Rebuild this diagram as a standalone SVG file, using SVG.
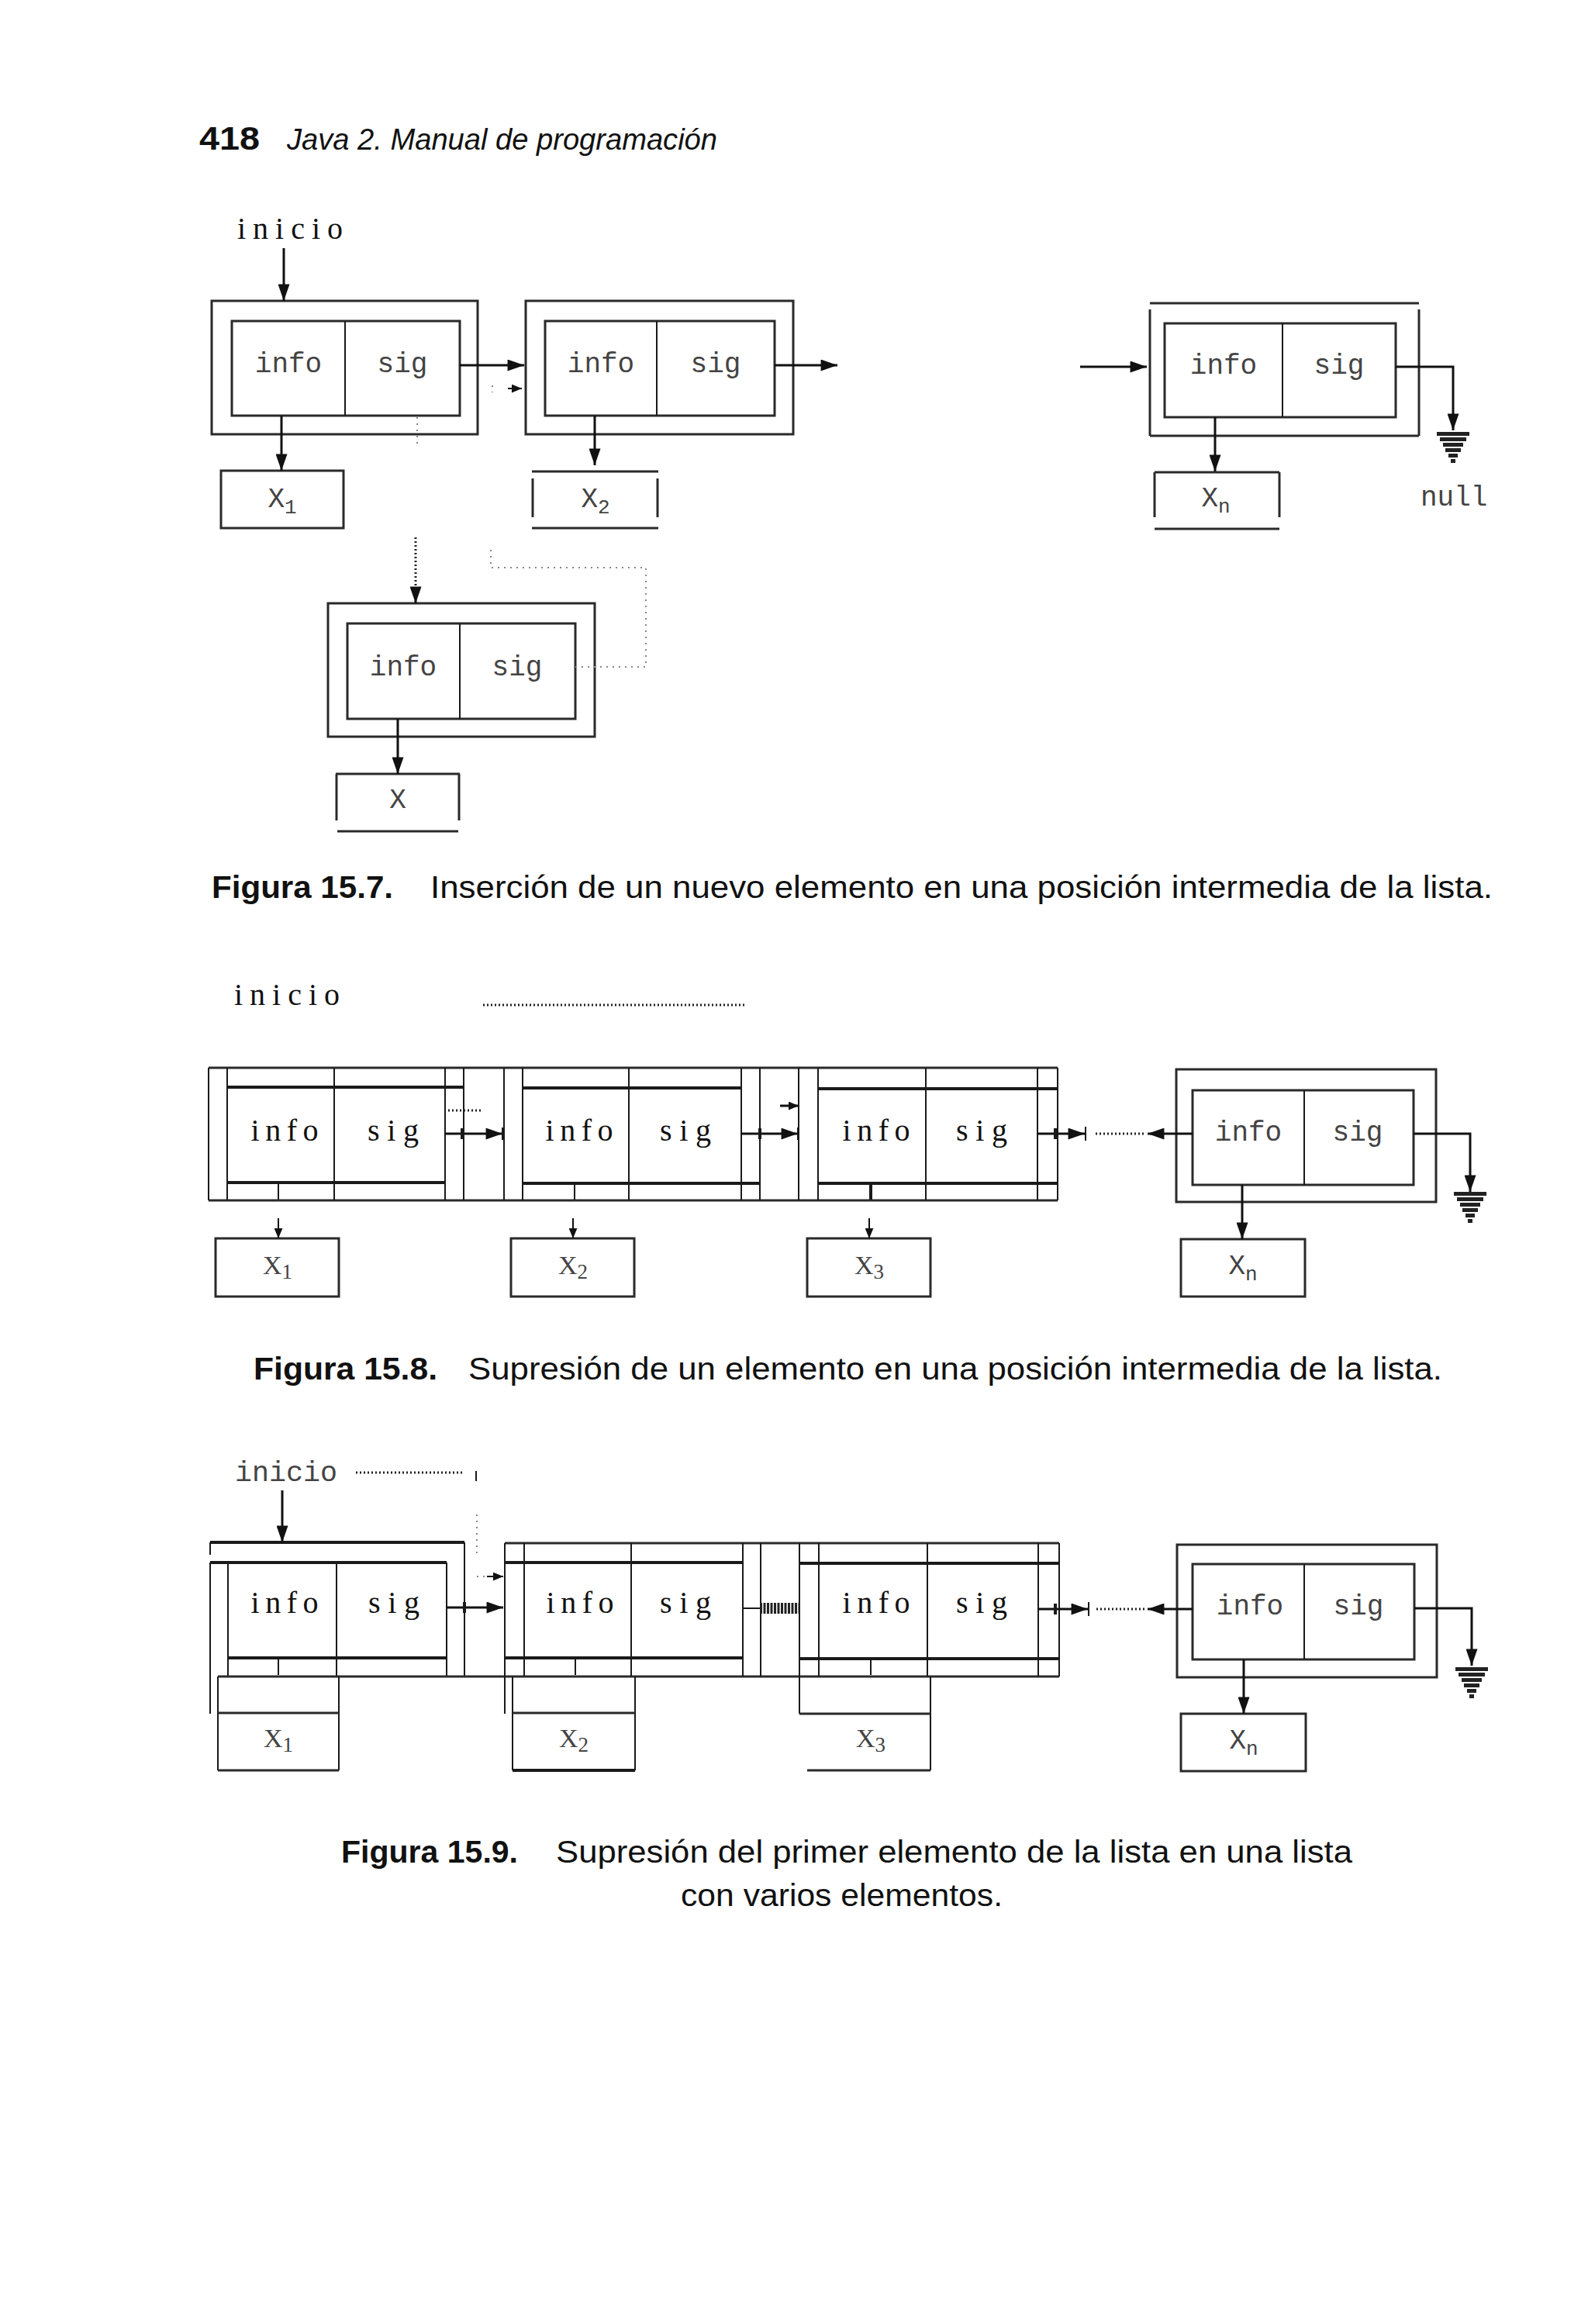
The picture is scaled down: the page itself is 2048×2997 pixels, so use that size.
<svg xmlns="http://www.w3.org/2000/svg" width="2048" height="2997" viewBox="0 0 2048 2997">
<defs>
<style>
.bx{fill:none;stroke:#2a2a2a;stroke-width:3}
.ln{stroke:#1a1a1a;stroke-width:2;fill:none}
.th{stroke:#1a1a1a;stroke-width:4;fill:none}
.ar{stroke:#111;stroke-width:3;fill:none;marker-end:url(#ah)}
.ars{stroke:#111;stroke-width:2;fill:none;marker-end:url(#ahs)}
.dot{stroke:#222;stroke-width:3;fill:none;stroke-dasharray:2 3}
.fdot{stroke:#888;stroke-width:2;fill:none;stroke-dasharray:2 6}
.mono{font-family:"Liberation Mono","DejaVu Sans Mono",monospace;font-size:36px;fill:#444}
.ser{font-family:"Liberation Serif","DejaVu Serif",serif;font-size:40px;fill:#111}
.xs{font-family:"Liberation Serif","DejaVu Serif",serif;font-size:34px;fill:#444}
.cap{font-family:"Liberation Sans",Arial,sans-serif;font-size:40px;fill:#111}
.capb{font-family:"Liberation Sans",Arial,sans-serif;font-size:40px;font-weight:bold;fill:#111}
</style>
<marker id="ah" viewBox="0 0 20 14" refX="20" refY="7" markerWidth="22" markerHeight="15" markerUnits="userSpaceOnUse" orient="auto"><path d="M0,0 L20,7 L0,14 z" fill="#111"/></marker>
<marker id="ahs" viewBox="0 0 12 10" refX="12" refY="5" markerWidth="13" markerHeight="11" markerUnits="userSpaceOnUse" orient="auto"><path d="M0,0 L12,5 L0,10 z" fill="#111"/></marker>
<g id="gnd" fill="#222">
<rect x="-21" y="0" width="42" height="5"/>
<rect x="-17" y="7" width="34" height="5"/>
<rect x="-13" y="14" width="26" height="5"/>
<rect x="-10" y="21" width="20" height="5"/>
<rect x="-6" y="28" width="12" height="5"/>
<rect x="-3" y="35" width="6" height="5"/>
</g>
</defs>
<rect width="2048" height="2997" fill="#fff"/>

<g id="header">
<text x="257" y="193" font-family="Liberation Sans, Arial, sans-serif" font-size="42" font-weight="bold" fill="#111" textLength="78" lengthAdjust="spacingAndGlyphs">418</text>
<text x="370" y="193" font-family="Liberation Sans, Arial, sans-serif" font-size="38" font-style="italic" fill="#111" textLength="555" lengthAdjust="spacingAndGlyphs">Java 2. Manual de programación</text>
</g>

<!-- ================= Figura 15.7 ================= -->
<g id="f157-inicio"><text class="ser" x="306" y="308" font-size="37" textLength="136" lengthAdjust="spacing">inicio</text></g>

<g id="f157-node1">
<rect class="bx" x="273" y="388" width="343" height="172"/>
<rect class="bx" x="299" y="414" width="294" height="122"/>
<line class="ln" x1="445" y1="414" x2="445" y2="536"/>
<text class="mono" x="372" y="480" text-anchor="middle">info</text>
<text class="mono" x="519" y="480" text-anchor="middle">sig</text>
</g>
<g id="f157-x1">
<rect class="bx" x="285" y="607" width="158" height="74"/>
<text class="mono" x="364" y="654" text-anchor="middle" font-size="32">X<tspan font-size="26" dy="8">1</tspan></text>
</g>

<g id="f157-node2">
<rect class="bx" x="678" y="388" width="345" height="172"/>
<rect class="bx" x="703" y="414" width="296" height="122"/>
<line class="ln" x1="847" y1="414" x2="847" y2="536"/>
<text class="mono" x="775" y="480" text-anchor="middle">info</text>
<text class="mono" x="923" y="480" text-anchor="middle">sig</text>
</g>
<g id="f157-x2">
<line class="bx" x1="686" y1="608" x2="849" y2="608"/>
<line class="bx" x1="686" y1="681" x2="849" y2="681"/>
<line class="bx" x1="687" y1="617" x2="687" y2="667"/>
<line class="bx" x1="848" y1="617" x2="848" y2="667"/>
<text class="mono" x="768" y="654" text-anchor="middle" font-size="32">X<tspan font-size="26" dy="8">2</tspan></text>
</g>

<g id="f157-noden">
<line class="bx" x1="1483" y1="391" x2="1830" y2="391"/>
<line class="bx" x1="1483" y1="399" x2="1483" y2="562"/>
<line class="bx" x1="1830" y1="399" x2="1830" y2="562"/>
<line class="bx" x1="1483" y1="562" x2="1830" y2="562"/>
<rect class="bx" x="1502" y="417" width="298" height="121"/>
<line class="ln" x1="1654" y1="417" x2="1654" y2="538"/>
<text class="mono" x="1578" y="482" text-anchor="middle">info</text>
<text class="mono" x="1727" y="482" text-anchor="middle">sig</text>
</g>
<g id="f157-xn">
<line class="bx" x1="1489" y1="609" x2="1650" y2="609"/>
<line class="bx" x1="1489" y1="609" x2="1489" y2="667"/>
<line class="bx" x1="1650" y1="609" x2="1650" y2="667"/>
<line class="bx" x1="1489" y1="682" x2="1650" y2="682"/>
<text class="mono" x="1568" y="653" text-anchor="middle" font-size="32">X<tspan font-size="26" dy="8">n</tspan></text>
</g>
<g id="f157-null">
<use href="#gnd" x="1874" y="557"/>
<text class="mono" x="1832" y="652">null</text>
</g>

<g id="f157-newnode">
<rect class="bx" x="423" y="778" width="344" height="172"/>
<rect class="bx" x="448" y="804" width="294" height="123"/>
<line class="ln" x1="593" y1="804" x2="593" y2="927"/>
<text class="mono" x="520" y="871" text-anchor="middle">info</text>
<text class="mono" x="667" y="871" text-anchor="middle">sig</text>
</g>
<g id="f157-x">
<line class="bx" x1="433" y1="998" x2="593" y2="998"/>
<line class="bx" x1="434" y1="998" x2="434" y2="1058"/>
<line class="bx" x1="592" y1="998" x2="592" y2="1058"/>
<line class="bx" x1="435" y1="1072" x2="591" y2="1072"/>
<text class="mono" x="513" y="1042" text-anchor="middle" font-size="32">X</text>
</g>

<g id="f157-connectors">
<line class="ar" x1="366" y1="320" x2="366" y2="388"/>
<line class="ar" x1="593" y1="471" x2="676" y2="471"/>
<line class="ar" x1="999" y1="471" x2="1080" y2="471"/>
<line class="ar" x1="1393" y1="473" x2="1479" y2="473"/>
<path class="ar" d="M1800,473 H1874 V555"/>
<line class="ar" x1="363" y1="536" x2="363" y2="607"/>
<line class="ar" x1="767" y1="536" x2="767" y2="600"/>
<line class="ar" x1="1567" y1="538" x2="1567" y2="608"/>
<line class="ar" x1="513" y1="927" x2="513" y2="998"/>
<line class="fdot" x1="538" y1="538" x2="538" y2="574"/>
<line class="dot" x1="536" y1="693" x2="536" y2="760" stroke="#555"/>
<line class="ar" x1="536" y1="758" x2="536" y2="778"/>
<path class="fdot" d="M742,860 H833 V732 H633 V708"/>
<line class="fdot" x1="635" y1="497" x2="635" y2="506"/>
<line x1="655" y1="501" x2="673" y2="501" stroke="#111" stroke-width="2" marker-end="url(#ahs)"/>
</g>

<g id="f157-caption">
<text class="capb" x="273" y="1158" textLength="234" lengthAdjust="spacingAndGlyphs">Figura 15.7.</text>
<text class="cap" x="555" y="1158" textLength="1370" lengthAdjust="spacingAndGlyphs">Inserción de un nuevo elemento en una posición intermedia de la lista.</text>
</g>

<!-- ================= Figura 15.8 ================= -->
<g id="f158-inicio">
<text class="ser" x="302" y="1296" font-size="37" textLength="136" lengthAdjust="spacing">inicio</text>
<line class="dot" x1="623" y1="1296" x2="960" y2="1296" stroke-dasharray="2 2"/>
</g>

<g id="f158-frame">
<line class="bx" x1="269" y1="1377" x2="1364" y2="1377"/>
<line class="bx" x1="269" y1="1548" x2="1364" y2="1548"/>
<line class="ln" x1="269" y1="1377" x2="269" y2="1548"/>
<line class="ln" x1="598" y1="1377" x2="598" y2="1548"/>
<line class="ln" x1="650" y1="1377" x2="650" y2="1548"/>
<line class="ln" x1="980" y1="1377" x2="980" y2="1548"/>
<line class="ln" x1="1030" y1="1377" x2="1030" y2="1548"/>
<line class="ln" x1="1338" y1="1377" x2="1338" y2="1548"/>
<line class="ln" x1="1364" y1="1377" x2="1364" y2="1548"/>
</g>
<g id="f158-node1">
<line class="ln" x1="293" y1="1377" x2="293" y2="1548"/>
<line class="ln" x1="431" y1="1377" x2="431" y2="1548"/>
<line class="ln" x1="574" y1="1377" x2="574" y2="1548"/>
<line class="th" x1="293" y1="1402" x2="598" y2="1402"/>
<line class="th" x1="293" y1="1525" x2="574" y2="1525"/>
<line class="ln" x1="359" y1="1526" x2="359" y2="1547"/>
<text class="ser" x="367" y="1471" text-anchor="middle" textLength="87" lengthAdjust="spacing">info</text>
<text class="ser" x="507" y="1471" text-anchor="middle" textLength="66" lengthAdjust="spacing">sig</text>
</g>
<g id="f158-node2">
<line class="ln" x1="674" y1="1377" x2="674" y2="1548"/>
<line class="ln" x1="811" y1="1377" x2="811" y2="1548"/>
<line class="ln" x1="956" y1="1377" x2="956" y2="1548"/>
<line class="th" x1="674" y1="1403" x2="956" y2="1403"/>
<line class="th" x1="674" y1="1526" x2="980" y2="1526"/>
<line class="ln" x1="741" y1="1526" x2="741" y2="1547"/>
<text class="ser" x="747" y="1471" text-anchor="middle" textLength="87" lengthAdjust="spacing">info</text>
<text class="ser" x="884" y="1471" text-anchor="middle" textLength="66" lengthAdjust="spacing">sig</text>
</g>
<g id="f158-node3">
<line class="ln" x1="1055" y1="1377" x2="1055" y2="1548"/>
<line class="ln" x1="1194" y1="1377" x2="1194" y2="1548"/>
<line class="th" x1="1055" y1="1404" x2="1364" y2="1404"/>
<line class="th" x1="1055" y1="1526" x2="1364" y2="1526"/>
<line class="th" x1="1123" y1="1526" x2="1123" y2="1547" stroke-width="3"/>
<text class="ser" x="1130" y="1471" text-anchor="middle" textLength="87" lengthAdjust="spacing">info</text>
<text class="ser" x="1266" y="1471" text-anchor="middle" textLength="66" lengthAdjust="spacing">sig</text>
</g>
<g id="f158-x1">
<rect class="bx" x="278" y="1597" width="159" height="75"/>
<text class="xs" x="358" y="1643" text-anchor="middle">X<tspan font-size="27" dy="6">1</tspan></text>
</g>
<g id="f158-x2">
<rect class="bx" x="659" y="1597" width="159" height="75"/>
<text class="xs" x="739" y="1643" text-anchor="middle">X<tspan font-size="27" dy="6">2</tspan></text>
</g>
<g id="f158-x3">
<rect class="bx" x="1041" y="1597" width="159" height="75"/>
<text class="xs" x="1121" y="1643" text-anchor="middle">X<tspan font-size="27" dy="6">3</tspan></text>
</g>
<g id="f158-noden">
<rect class="bx" x="1517" y="1379" width="335" height="171"/>
<rect class="bx" x="1538" y="1406" width="285" height="122"/>
<line class="ln" x1="1682" y1="1406" x2="1682" y2="1528"/>
<text class="mono" x="1610" y="1471" text-anchor="middle">info</text>
<text class="mono" x="1751" y="1471" text-anchor="middle">sig</text>
</g>
<g id="f158-xn">
<rect class="bx" x="1523" y="1598" width="160" height="74"/>
<text class="mono" x="1603" y="1643" text-anchor="middle" font-size="32">X<tspan font-size="26" dy="8">n</tspan></text>
</g>
<g id="f158-null"><use href="#gnd" x="1896" y="1537"/></g>

<g id="f158-connectors">
<line class="ar" x1="574" y1="1462" x2="648" y2="1462"/>
<line class="th" x1="596" y1="1455" x2="596" y2="1469"/>
<line class="ln" x1="648" y1="1454" x2="648" y2="1470"/>
<line class="dot" x1="578" y1="1432" x2="622" y2="1432" stroke-dasharray="3 4"/>
<line class="ar" x1="956" y1="1462" x2="1029" y2="1462"/>
<line class="th" x1="980" y1="1455" x2="980" y2="1469"/>
<line class="ln" x1="1029" y1="1454" x2="1029" y2="1470"/>
<line x1="1006" y1="1426" x2="1030" y2="1426" stroke="#111" stroke-width="3" marker-end="url(#ahs)"/>
<line class="ar" x1="1338" y1="1462" x2="1399" y2="1462"/>
<line class="th" x1="1361" y1="1455" x2="1361" y2="1469"/>
<line class="ln" x1="1400" y1="1453" x2="1400" y2="1471"/>
<line class="dot" x1="1413" y1="1462" x2="1478" y2="1462"/>
<line class="ar" x1="1538" y1="1462" x2="1480" y2="1462"/>
<path class="ar" d="M1823,1462 H1896 V1537"/>
<line class="ar" x1="1602" y1="1528" x2="1602" y2="1598"/>
<line class="ars" x1="359" y1="1571" x2="359" y2="1597"/>
<line class="ars" x1="739" y1="1571" x2="739" y2="1597"/>
<line class="ars" x1="1121" y1="1571" x2="1121" y2="1597"/>
</g>

<g id="f158-caption">
<text class="capb" x="327" y="1779" textLength="237" lengthAdjust="spacingAndGlyphs">Figura 15.8.</text>
<text class="cap" x="604" y="1779" textLength="1256" lengthAdjust="spacingAndGlyphs">Supresión de un elemento en una posición intermedia de la lista.</text>
</g>

<!-- ================= Figura 15.9 ================= -->
<g id="f159-inicio">
<text class="mono" x="303" y="1910" fill="#555" textLength="132" lengthAdjust="spacingAndGlyphs">inicio</text>
<line class="dot" x1="459" y1="1899" x2="596" y2="1899" stroke-dasharray="2 2" stroke-width="3"/>
<line class="ln" x1="614" y1="1897" x2="614" y2="1910"/>
</g>

<g id="f159-node1">
<line class="th" x1="271" y1="1989" x2="599" y2="1989"/>
<line class="ln" x1="271" y1="1989" x2="271" y2="2005"/>
<line class="ln" x1="271" y1="2015" x2="271" y2="2210"/>
<line class="ln" x1="599" y1="1989" x2="599" y2="2162"/>
<line class="th" x1="271" y1="2015" x2="576" y2="2015"/>
<line class="th" x1="294" y1="2138" x2="576" y2="2138"/>
<line class="ln" x1="294" y1="2015" x2="294" y2="2162"/>
<line class="ln" x1="434" y1="2015" x2="434" y2="2162"/>
<line class="ln" x1="576" y1="2015" x2="576" y2="2162"/>
<line class="ln" x1="359" y1="2140" x2="359" y2="2160"/>
<text class="ser" x="367" y="2080" text-anchor="middle" textLength="87" lengthAdjust="spacing">info</text>
<text class="ser" x="508" y="2080" text-anchor="middle" textLength="66" lengthAdjust="spacing">sig</text>
</g>
<g id="f159-frame">
<line class="bx" x1="281" y1="2162" x2="1366" y2="2162"/>
<line class="bx" x1="651" y1="1990" x2="1366" y2="1990"/>
<line class="ln" x1="981" y1="1990" x2="981" y2="2162"/>
<line class="ln" x1="1339" y1="1990" x2="1339" y2="2162"/>
<line class="ln" x1="1366" y1="1990" x2="1366" y2="2162"/>
</g>
<g id="f159-node2">
<line class="ln" x1="651" y1="1990" x2="651" y2="2210"/>
<line class="ln" x1="676" y1="1990" x2="676" y2="2162"/>
<line class="ln" x1="814" y1="1990" x2="814" y2="2162"/>
<line class="ln" x1="958" y1="1990" x2="958" y2="2162"/>
<line class="th" x1="651" y1="2015" x2="958" y2="2015"/>
<line class="th" x1="651" y1="2138" x2="958" y2="2138"/>
<line class="ln" x1="742" y1="2140" x2="742" y2="2160"/>
<text class="ser" x="748" y="2080" text-anchor="middle" textLength="87" lengthAdjust="spacing">info</text>
<text class="ser" x="884" y="2080" text-anchor="middle" textLength="66" lengthAdjust="spacing">sig</text>
</g>
<g id="f159-node3">
<line class="ln" x1="1031" y1="1990" x2="1031" y2="2210"/>
<line class="ln" x1="1056" y1="1990" x2="1056" y2="2162"/>
<line class="ln" x1="1196" y1="1990" x2="1196" y2="2162"/>
<line class="th" x1="1031" y1="2016" x2="1366" y2="2016"/>
<line class="th" x1="1031" y1="2139" x2="1366" y2="2139"/>
<line class="ln" x1="1123" y1="2140" x2="1123" y2="2160"/>
<text class="ser" x="1130" y="2080" text-anchor="middle" textLength="87" lengthAdjust="spacing">info</text>
<text class="ser" x="1266" y="2080" text-anchor="middle" textLength="66" lengthAdjust="spacing">sig</text>
</g>
<g id="f159-x1">
<line class="ln" x1="281" y1="2162" x2="281" y2="2283"/>
<line class="ln" x1="437" y1="2162" x2="437" y2="2283"/>
<line class="bx" x1="281" y1="2209" x2="437" y2="2209"/>
<line class="bx" x1="281" y1="2283" x2="437" y2="2283"/>
<text class="xs" x="359" y="2253" text-anchor="middle">X<tspan font-size="27" dy="6">1</tspan></text>
</g>
<g id="f159-x2">
<line class="ln" x1="661" y1="2162" x2="661" y2="2283"/>
<line class="ln" x1="819" y1="2162" x2="819" y2="2283"/>
<line class="bx" x1="661" y1="2209" x2="819" y2="2209"/>
<line class="th" x1="661" y1="2283" x2="819" y2="2283"/>
<text class="xs" x="740" y="2253" text-anchor="middle">X<tspan font-size="27" dy="6">2</tspan></text>
</g>
<g id="f159-x3">
<line class="ln" x1="1200" y1="2162" x2="1200" y2="2283"/>
<line class="bx" x1="1031" y1="2210" x2="1200" y2="2210"/>
<line class="bx" x1="1041" y1="2283" x2="1200" y2="2283"/>
<text class="xs" x="1123" y="2253" text-anchor="middle">X<tspan font-size="27" dy="6">3</tspan></text>
</g>
<g id="f159-noden">
<rect class="bx" x="1518" y="1992" width="335" height="171"/>
<rect class="bx" x="1538" y="2017" width="286" height="123"/>
<line class="ln" x1="1682" y1="2017" x2="1682" y2="2140"/>
<text class="mono" x="1612" y="2082" text-anchor="middle">info</text>
<text class="mono" x="1752" y="2082" text-anchor="middle">sig</text>
</g>
<g id="f159-xn">
<rect class="bx" x="1523" y="2210" width="161" height="74"/>
<text class="mono" x="1604" y="2255" text-anchor="middle" font-size="32">X<tspan font-size="26" dy="8">n</tspan></text>
</g>
<g id="f159-null"><use href="#gnd" x="1898" y="2150"/></g>

<g id="f159-connectors">
<line class="ar" x1="364" y1="1922" x2="364" y2="1989"/>
<line class="fdot" x1="615" y1="1953" x2="615" y2="2003" stroke="#666" stroke-dasharray="3 4"/>
<line class="fdot" x1="615" y1="2033" x2="628" y2="2033" stroke="#444" stroke-dasharray="3 3"/>
<line x1="628" y1="2033" x2="649" y2="2033" stroke="#111" stroke-width="2" marker-end="url(#ahs)"/>
<line class="ar" x1="576" y1="2073" x2="649" y2="2073"/>
<line class="th" x1="599" y1="2066" x2="599" y2="2080"/>
<line class="ln" x1="958" y1="2074" x2="980" y2="2074" stroke-width="3"/>
<line x1="980" y1="2074" x2="1030" y2="2074" stroke="#222" stroke-width="14" stroke-dasharray="3 1.5"/>
<line class="ar" x1="1338" y1="2075" x2="1403" y2="2075"/>
<line class="th" x1="1361" y1="2068" x2="1361" y2="2082"/>
<line class="ln" x1="1404" y1="2066" x2="1404" y2="2084"/>
<line class="dot" x1="1414" y1="2075" x2="1478" y2="2075"/>
<line class="ar" x1="1538" y1="2075" x2="1480" y2="2075"/>
<path class="ar" d="M1824,2074 H1898 V2148"/>
<line class="ar" x1="1604" y1="2140" x2="1604" y2="2210"/>
</g>

<g id="f159-caption">
<text class="capb" x="440" y="2402" textLength="228" lengthAdjust="spacingAndGlyphs">Figura 15.9.</text>
<text class="cap" x="717" y="2402" textLength="1027" lengthAdjust="spacingAndGlyphs">Supresión del primer elemento de la lista en una lista</text>
<text class="cap" x="878" y="2458" textLength="415" lengthAdjust="spacingAndGlyphs">con varios elementos.</text>
</g>
</svg>
